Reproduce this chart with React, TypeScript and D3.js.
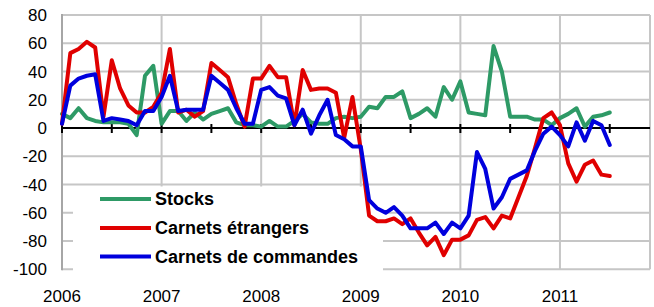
import React from "react";
import * as d3 from "d3";

// Monthly observations, Jan 2006 (index 0) to Jul 2011 (index 66)
const years = ["2006", "2007", "2008", "2009", "2010", "2011"];
const yTicks = [-100, -80, -60, -40, -20, 0, 20, 40, 60, 80];

const stocks = [
  10, 7, 14, 7, 5, 4, 4, 4, 3, -5, 37, 44,
  3, 12, 12, 5, 11, 6, 10, 12, 14, 4, 2, 2,
  1, 5, 1, 1, 5, 10, 4, 3, 3, 7, 8, 7,
  8, 15, 14, 22, 22, 26, 7, 10, 14, 8, 29, 20,
  33, 11, 10, 9, 58, 40, 8, 8, 8, 6, 6, 2,
  7, 10, 14, 1, 8, 9, 11,
];

const carnetsEtrangers = [
  3, 53, 56, 61, 57, 8, 48, 28, 16, 11, 11, 15,
  25, 56, 11, 13, 8, 12, 46, 41, 36, 17, 1, 35,
  35, 44, 36, 36, 2, 41, 27, 28, 28, 25, -7, 22,
  -15, -62, -66, -66, -64, -68, -64, -74, -83, -77, -90, -79,
  -79, -76, -65, -63, -71, -62, -64, -49, -34, -14, 7, 11,
  2, -25, -38, -26, -23, -33, -34,
];

const carnetsCommandes = [
  3, 30, 35, 37, 38, 5, 7, 6, 5, 2, 12, 12,
  22, 37, 12, 13, 13, 13, 37, 32, 27, 14, 3, 3,
  27, 29, 23, 21, 2, 13, -4, 9, 20, -5, -8, -13,
  -13, -51, -57, -60, -56, -62, -71, -71, -71, -67, -75, -67,
  -71, -62, -17, -29, -57, -49, -36, -33, -30, -16, -4, 1,
  -5, -13, 4, -9, 5, 2, -12,
];

const seriesNames = ["Stocks", "Carnets étrangers", "Carnets de commandes"];
const seriesColors = ["#2e9a66", "#e00000", "#0000dd"];

export default function App() {
  const W = 654;
  const H = 307;
  const left = 62;
  const right = 650;
  const top = 15;
  const bottom = 269.3;

  const x = d3.scaleLinear().domain([0, 70.85]).range([left, right]);
  const y = d3.scaleLinear().domain([-100, 80]).range([bottom, top]);

  const series = [stocks, carnetsEtrangers, carnetsCommandes];
  const line = d3
    .line<number>()
    .x((_, i) => x(i))
    .y((d) => y(d));

  const font = "Arial, 'Liberation Sans', sans-serif";
  const grid = "#c6c6c6";
  const halfYears = d3.range(0, 67, 6);

  const legendRows = [199, 228, 256.5];

  return (
    <svg
      width={W}
      height={H}
      style={{ position: "absolute", left: 0, top: 0, background: "#fff" }}
    >
      {/* horizontal gridlines */}
      {yTicks.map((t) => (
        <line
          key={"h" + t}
          x1={left}
          x2={right}
          y1={y(t)}
          y2={y(t)}
          stroke={grid}
          strokeWidth={2}
        />
      ))}
      {/* vertical gridlines at year boundaries */}
      {years.slice(1).map((_, k) => (
        <line
          key={"v" + k}
          x1={x((k + 1) * 12)}
          x2={x((k + 1) * 12)}
          y1={top}
          y2={bottom}
          stroke={grid}
          strokeWidth={2}
        />
      ))}
      <line x1={right} x2={right} y1={top} y2={bottom} stroke={grid} strokeWidth={2} />
      {/* left axis */}
      <line x1={left} x2={left} y1={top - 1} y2={bottom + 1} stroke="#a6a6a6" strokeWidth={2} />

      {/* legend box (white, covers gridlines) */}
      <rect x={73} y={186.5} width={310} height={85} fill="#fff" />

      {/* zero axis */}
      <line x1={left} x2={right} y1={y(0)} y2={y(0)} stroke="#000" strokeWidth={2} />
      {halfYears.map((m) => (
        <line
          key={"t" + m}
          x1={x(m)}
          x2={x(m)}
          y1={y(0) - 4}
          y2={y(0) + 5}
          stroke="#000"
          strokeWidth={2}
        />
      ))}

      {/* y labels */}
      {yTicks.map((t) => (
        <text
          key={"yl" + t}
          x={47}
          y={y(t)}
          dy="0.36em"
          textAnchor="end"
          fontFamily={font}
          fontSize={17}
          fill="#000"
        >
          {t}
        </text>
      ))}
      {/* x labels */}
      {years.map((yr, k) => (
        <text
          key={"xl" + yr}
          x={x(k * 12)}
          y={302}
          textAnchor="middle"
          fontFamily={font}
          fontSize={17}
          fill="#000"
        >
          {yr}
        </text>
      ))}

      {/* series */}
      {series.map((s, k) => (
        <path
          key={"s" + k}
          d={line(s) || ""}
          fill="none"
          stroke={seriesColors[k]}
          strokeWidth={4}
          strokeLinejoin="round"
          strokeLinecap="round"
        />
      ))}

      {/* legend */}
      {seriesNames.map((n, k) => (
        <g key={"lg" + k}>
          <line
            x1={100}
            x2={151}
            y1={legendRows[k]}
            y2={legendRows[k]}
            stroke={seriesColors[k]}
            strokeWidth={4}
          />
          <text
            x={155}
            y={legendRows[k]}
            dy="0.36em"
            fontFamily={font}
            fontSize={18}
            fontWeight="bold"
            fill="#000"
          >
            {n}
          </text>
        </g>
      ))}
    </svg>
  );
}
